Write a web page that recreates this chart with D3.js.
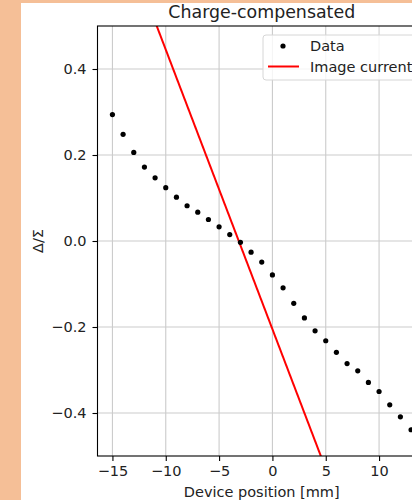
<!DOCTYPE html>
<html>
<head>
<meta charset="utf-8">
<script src="https://cdn.jsdelivr.net/npm/d3@7"></script>
<style>
  html, body { margin: 0; padding: 0; background: #f5bf97; overflow: hidden; }
  svg { display: block; font-family: "DejaVu Sans", sans-serif; }
</style>
</head>
<body>
<svg id="chart" width="412" height="500"></svg>
<script>
// Measured Δ/Σ versus device position
const positions = [-15, -14, -13, -12, -11, -10, -9, -8, -7, -6, -5, -4, -3, -2, -1,
                   0, 1, 2, 3, 4, 5, 6, 7, 8, 9, 10, 11, 12, 13];
const deltaSigma = [0.294, 0.248, 0.206, 0.172, 0.147, 0.124, 0.102, 0.082, 0.067, 0.050,
                    0.033, 0.015, -0.003, -0.026, -0.049,
                    -0.079, -0.109, -0.145, -0.179, -0.209, -0.232, -0.259, -0.285, -0.302,
                    -0.329, -0.350, -0.381, -0.409, -0.439];

// Image-current model line (end points)
const modelX = [-15, 15];
const modelY = [0.770, -1.180];

const xTicks = [-15, -10, -5, 0, 5, 10, 15];
const yTicks = [-0.4, -0.2, 0.0, 0.2, 0.4];

const FS = 14.5;      // label font size
const TITLE_FS = 17.4;
const INK = "#222";

const svg = d3.select("#chart");

// white figure area
svg.append("rect").attr("x", 21).attr("y", 3).attr("width", 412).attr("height", 500).attr("fill", "#fff");

const plot = { left: 97.5, right: 426, top: 26, bottom: 456 };
const x = d3.scaleLinear().domain([-16.4, 14.4]).range([plot.left, plot.right]);
const y = d3.scaleLinear().domain([-0.5, 0.5]).range([plot.bottom, plot.top]);

const fmtY = v => d3.format(".1f")(v).replace("-", "\u2212");
const fmtX = v => String(v).replace("-", "\u2212");

svg.append("defs").append("clipPath").attr("id", "clip")
  .append("rect").attr("x", plot.left).attr("y", plot.top)
  .attr("width", plot.right - plot.left).attr("height", plot.bottom - plot.top);

// grid
const xVisible = xTicks.filter(t => x(t) <= plot.right);
const grid = svg.append("g").attr("stroke", "#cbcbcb").attr("stroke-width", 1.1);
grid.selectAll("line.gx").data(xVisible).join("line")
  .attr("x1", d => x(d)).attr("x2", d => x(d)).attr("y1", plot.top).attr("y2", plot.bottom);
grid.selectAll("line.gy").data(yTicks).join("line")
  .attr("y1", d => y(d)).attr("y2", d => y(d)).attr("x1", plot.left).attr("x2", plot.right);

// axes
const xAxis = d3.axisBottom(x).tickValues(xVisible).tickFormat(fmtX).tickSize(5).tickPadding(5);
const yAxis = d3.axisLeft(y).tickValues(yTicks).tickFormat(fmtY).tickSize(5).tickPadding(6);

const gx = svg.append("g").attr("transform", `translate(0,${plot.bottom})`).call(xAxis);
const gy = svg.append("g").attr("transform", `translate(${plot.left},0)`).call(yAxis);
[gx, gy].forEach(g => {
  g.select(".domain").remove();
  g.selectAll("line").attr("stroke", "#000").attr("stroke-width", 1.1);
  g.selectAll("text").attr("fill", INK).attr("font-size", FS)
    .attr("font-family", "DejaVu Sans, sans-serif");
});

// model line
const g = svg.append("g").attr("clip-path", "url(#clip)");
const lineData = modelX.map((v, i) => [v, modelY[i]]);
g.append("path").datum(lineData)
  .attr("d", d3.line().x(d => x(d[0])).y(d => y(d[1])))
  .attr("fill", "none").attr("stroke", "#ff0000").attr("stroke-width", 2);

// data points
g.selectAll("circle").data(positions).join("circle")
  .attr("cx", d => x(d)).attr("cy", (d, i) => y(deltaSigma[i]))
  .attr("r", 2.6).attr("fill", "#000");

// spines
svg.append("rect").attr("x", plot.left).attr("y", plot.top)
  .attr("width", plot.right - plot.left).attr("height", plot.bottom - plot.top)
  .attr("fill", "none").attr("stroke", "#000").attr("stroke-width", 1.1);

// title and axis labels
const cx = (plot.left + plot.right) / 2;
svg.append("text").attr("x", cx).attr("y", 17.5).attr("text-anchor", "middle")
  .attr("font-size", TITLE_FS).attr("fill", INK).text("Charge-compensated");
svg.append("text").attr("x", cx).attr("y", 496.5).attr("text-anchor", "middle")
  .attr("font-size", FS).attr("fill", INK).text("Device position [mm]");
svg.append("text").attr("transform", `translate(43,${y(0)}) rotate(-90)`)
  .attr("text-anchor", "middle").attr("font-size", FS).attr("fill", INK).text("Δ/Σ");

// legend
const lg = svg.append("g");
lg.append("rect").attr("x", 263).attr("y", 35).attr("width", 160).attr("height", 45)
  .attr("rx", 3).attr("fill", "#fff").attr("fill-opacity", 0.8)
  .attr("stroke", "#d6d6d6").attr("stroke-width", 1);
lg.append("circle").attr("cx", 283).attr("cy", 46).attr("r", 2.6).attr("fill", "#000");
lg.append("line").attr("x1", 268).attr("x2", 299).attr("y1", 66.5).attr("y2", 66.5)
  .attr("stroke", "#ff0000").attr("stroke-width", 2);
lg.append("text").attr("x", 310).attr("y", 51).attr("font-size", FS).attr("fill", INK).text("Data");
lg.append("text").attr("x", 310).attr("y", 71.5).attr("font-size", FS).attr("fill", INK).text("Image current");
</script>
</body>
</html>
